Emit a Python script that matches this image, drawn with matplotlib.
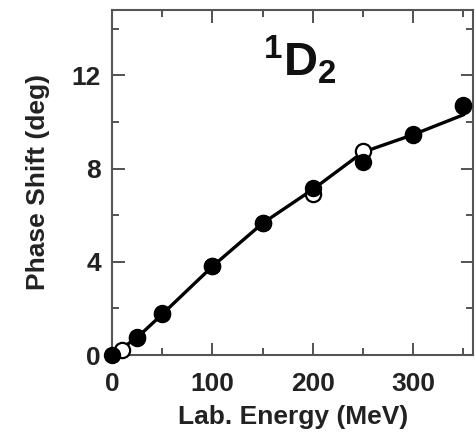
import numpy as np
import matplotlib.pyplot as plt
from matplotlib.ticker import MultipleLocator

plt.rcParams['font.family'] = ['Liberation Sans', 'DejaVu Sans']
plt.rcParams['mathtext.fontset'] = 'custom'
plt.rcParams['mathtext.rm'] = 'Liberation Sans:bold'
plt.rcParams['mathtext.it'] = 'Liberation Sans:bold'
plt.rcParams['mathtext.bf'] = 'Liberation Sans:bold'

# energias (MeV) e defasagens (graus)
energia_cheio = [0, 25, 50, 100, 150, 200, 250, 300, 350]
fase_cheio = [0.0, 0.77, 1.8, 3.82, 5.66, 7.16, 8.28, 9.48, 10.73]

energia_aberto = [10, 25, 50, 100, 150, 200, 250, 300, 350]
fase_aberto = [0.2, 0.75, 1.75, 3.8, 5.65, 6.9, 8.75, 9.45, 10.7]

energia_curva = [10, 25, 50, 100, 150, 200, 250, 300, 350]
fase_curva = [0.3, 0.75, 1.75, 3.8, 5.65, 7.1, 8.7, 9.45, 10.3]

fig = plt.figure(figsize=(4.77, 4.34), dpi=100)
ax = fig.add_axes([0.235, 0.182, 0.757, 0.795])

ax.plot(energia_curva, fase_curva, color='black', lw=2.4, zorder=2)
ax.plot(energia_aberto, fase_aberto, 'o', ms=11, mfc='white', mec='black',
        mew=1.6, zorder=3, clip_on=False)
ax.plot(energia_cheio, fase_cheio, 'o', ms=11.5, color='black', zorder=4,
        clip_on=False)

ax.set_xlim(0, 360)
ax.set_ylim(0, 14.8)
ax.xaxis.set_major_locator(MultipleLocator(100))
ax.xaxis.set_minor_locator(MultipleLocator(50))
ax.yaxis.set_major_locator(MultipleLocator(4))
ax.yaxis.set_minor_locator(MultipleLocator(2))

ax.tick_params(which='both', direction='in', top=True, right=True,
               color='#444444', width=1.3)
ax.tick_params(which='major', length=9)
ax.tick_params(which='minor', length=5)
ax.tick_params(axis='x', which='major', pad=12, labelsize=19)
ax.tick_params(axis='y', which='major', pad=8, labelsize=19)
for lbl in ax.get_xticklabels() + ax.get_yticklabels():
    lbl.set_fontweight('bold')
    lbl.set_color('#222222')

for s in ax.spines.values():
    s.set_color('#555555')
    s.set_linewidth(1.5)

ax.set_xlabel('Lab. Energy (MeV)', fontsize=19, fontweight='bold',
              color='#222222', labelpad=7)
ax.set_ylabel('Phase Shift (deg)', fontsize=19, fontweight='bold',
              color='#222222', labelpad=16)

ax.text(0.52, 0.855, r'$^{1}\mathrm{D}_{2}$', transform=ax.transAxes,
        fontsize=34, ha='center', va='center', color='#111111')

fig.savefig('out.png', dpi=100)
